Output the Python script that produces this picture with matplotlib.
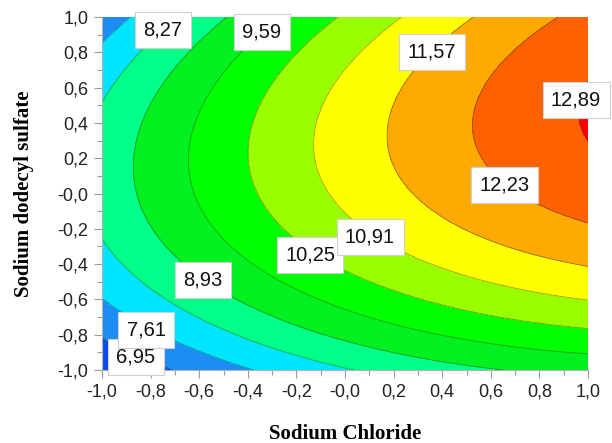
import numpy as np
import matplotlib
matplotlib.use("Agg")
import matplotlib.pyplot as plt
from matplotlib.ticker import MultipleLocator

# quadratic response-surface model
# Y = b0 + b1*x1 + b2*x2 + b11*x1^2 + b22*x2^2 + b12*x1*x2
b0, b1, b2 = 11.046, 2.025, 1.054
b11, b22, b12 = -0.516, -1.774, 0.598

levels = [6.95, 7.61, 8.27, 8.93, 9.59, 10.25, 10.91, 11.57, 12.23, 12.89]
band_colors = ["#0a4cf0", "#1e8cf5", "#00e5ff", "#00ff88", "#00f020", "#00ff00",
               "#99ff00", "#ffff00", "#ffaa00", "#ff6000", "#ff0000"]
tick_vals = [-1.0, -0.8, -0.6, -0.4, -0.2, 0.0, 0.2, 0.4, 0.6, 0.8, 1.0]
tick_labels = ["-1,0", "-0,8", "-0,6", "-0,4", "-0,2", "-0,0", "0,2", "0,4", "0,6", "0,8", "1,0"]

# where the value boxes sit (NaCl, SDS)
label_pos = [(-0.860, -0.926), (-0.819, -0.773), (-0.749, 0.926), (-0.584, -0.490),
             (-0.342, 0.915), (-0.144, -0.348), (0.103, -0.246), (0.358, 0.800),
             (0.658, 0.048), (0.951, 0.530)]

g = np.linspace(-1, 1, 400)
X1, X2 = np.meshgrid(g, g)
Y = b0 + b1 * X1 + b2 * X2 + b11 * X1**2 + b22 * X2**2 + b12 * X1 * X2

fig = plt.figure(figsize=(6.12, 4.43), dpi=100)
ax = fig.add_axes([0.1667, 0.1648, 0.7941, 0.7968])

ax.contourf(X1, X2, Y, levels=[-100] + levels + [100], colors=band_colors)
ax.contour(X1, X2, Y, levels=levels, colors="#304030", linewidths=0.6, alpha=0.5)

for lev, (px, py) in zip(levels, label_pos):
    ax.text(px, py, ("%.2f" % lev).replace(".", ","), ha="center", va="center",
            fontsize=14.5, family="Liberation Sans", color="#111111", zorder=10,
            clip_on=False,
            bbox=dict(boxstyle="square,pad=0.42", facecolor="white",
                      edgecolor="#d0d0d0", linewidth=0.8))

ax.set_xlim(-1, 1)
ax.set_ylim(-1, 1)
ax.set_xticks(tick_vals)
ax.set_xticklabels(tick_labels)
ax.set_yticks(tick_vals)
ax.set_yticklabels(tick_labels)
ax.xaxis.set_minor_locator(MultipleLocator(0.1))
ax.yaxis.set_minor_locator(MultipleLocator(0.1))
ax.tick_params(which="major", direction="out", length=6, width=0.8, color="#9a9a9a",
               labelsize=13, labelcolor="#222222", pad=4)
ax.tick_params(which="minor", direction="out", length=3.5, width=0.8, color="#9a9a9a")
for lab in ax.get_xticklabels() + ax.get_yticklabels():
    lab.set_family("Liberation Sans")

for side in ["top", "right"]:
    ax.spines[side].set_visible(False)
for side in ["left", "bottom"]:
    ax.spines[side].set_color("#b0b0b0")
    ax.spines[side].set_linewidth(0.8)

ax.set_xlabel("Sodium Chloride", family="Liberation Serif", fontweight="bold",
              fontsize=15, labelpad=17)
ax.set_ylabel("Sodium dodecyl sulfate", family="Liberation Serif", fontweight="bold",
              fontsize=15, labelpad=17)

fig.savefig("out.png", dpi=100)
